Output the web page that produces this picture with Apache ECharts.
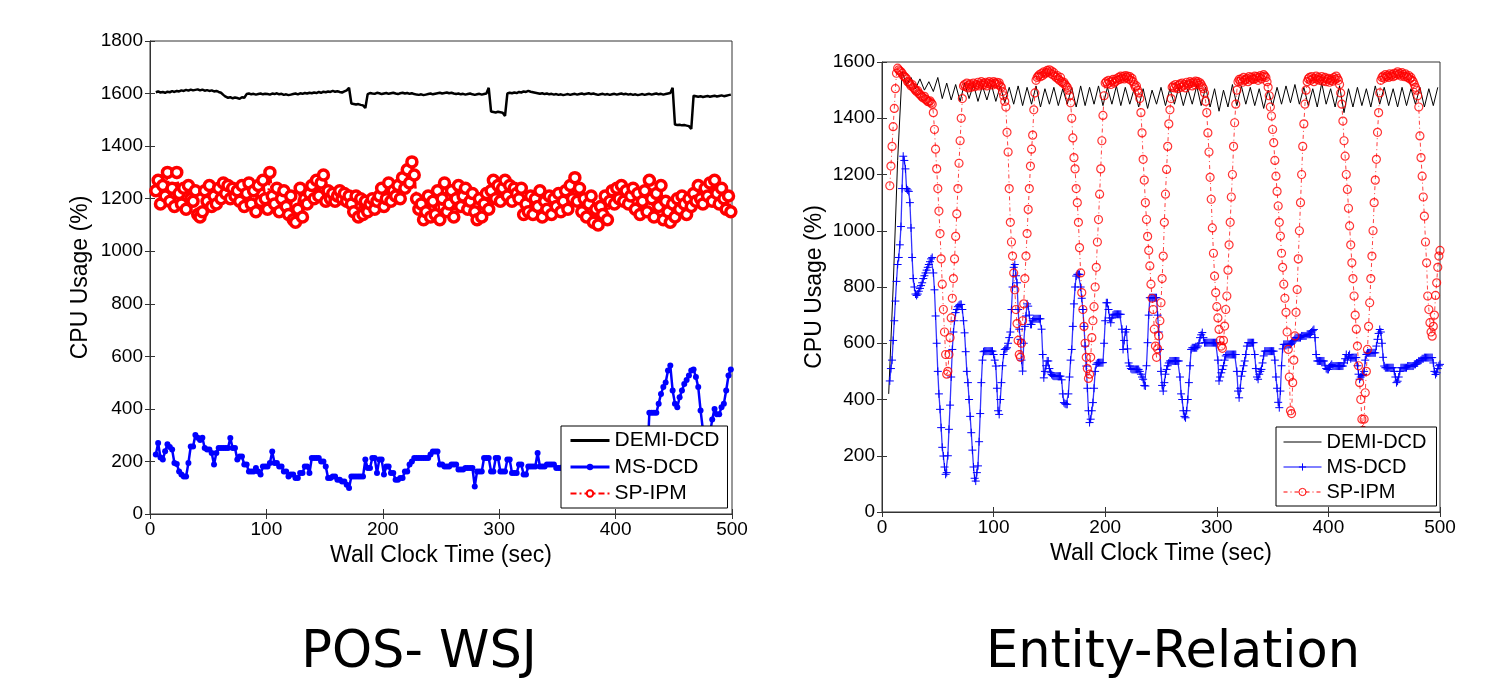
<!DOCTYPE html>
<html>
<head>
<meta charset="utf-8">
<title>CPU usage: POS-WSJ vs Entity-Relation</title>
<script src="https://cdn.jsdelivr.net/npm/echarts@6/dist/echarts.min.js"></script>
<style>
  html, body { margin: 0; padding: 0; background: #ffffff; }
  #chart { width: 1496px; height: 682px; }
</style>
</head>
<body>
<div id="chart"></div>
<script>
// POS-WSJ (left panel), one sample every 2 s starting at t = 5
const posStart = 5, posStep = 2;
const posDemiDcd = [
  1605,1608,1604,1606,1603,1607,1605,1609,1606,1610,1608,1612,1610,1614,1611,1615,1612,1614,1616,1612,
  1615,1611,1613,1610,1612,1608,1610,1606,1603,
  1595,1588,1584,1586,1582,1585,1583,1580,1586,1584,
  1598,1600,1597,1599,1596,1598,1600,1597,1599,1598,1596,1600,1598,1601,1597,1599,1595,1597,1594,1596,
  1598,1600,1597,1601,1599,1602,1600,1603,1601,1604,1602,1606,1603,1607,1605,1608,1606,1610,1607,1609,
  1606,1604,1608,1612,
  1622,
  1562,1560,1558,1560,1557,1555,1545,
  1598,1602,1600,1599,1603,1601,1598,1600,1602,1599,1601,1603,1600,1598,1601,1603,1600,1602,1599,1601,
  1598,1596,1595,1597,1594,1596,1598,1600,1597,1599,1601,1603,1600,1602,1604,1601,1603,1600,1598,1600,
  1597,1599,1596,1598,1600,1597,1595,1597,1599,1596,1598,1600,
  1622,
  1532,1530,1528,1531,1529,1527,1515,
  1600,1603,1601,1604,1602,1606,1604,1608,1606,1610,1607,1605,1603,1601,1599,1601,1598,1600,1597,1599,
  1596,1598,1595,1597,1594,1596,1598,1595,1597,1599,1596,1598,1600,1597,1599,1601,1598,1600,1597,1595,
  1597,1599,1596,1598,1595,1597,1599,1596,1598,1600,1597,1599,1596,1598,1595,1597,1594,1596,1598,1595,
  1597,1599,1596,1598,1600,1597,1599,1596,1598,1600,1602,
  1622,
  1482,1480,1481,1479,1480,1478,1476,1465,
  1592,1590,1588,1590,1587,1589,1591,1588,1590,1592,1589,1591,1593,1590,1592,1594,1596
];
const posMsDcd = [
  226,270,215,207,239,265,255,245,194,190, 162,150,143,143,194,257,257,301,290,282,
  290,251,245,245,232,188,232,251,251,251, 251,251,289,251,251,207,219,219,188,188,
  162,162,162,175,162,150,181,181,181,194, 238,194,194,181,181,162,162,143,150,150,
  137,137,156,156,181,181,156,213,213,213, 213,200,200,181,137,137,143,143,130,130,
  124,124,111,99,143,143,143,143,143,143, 207,175,175,213,213,156,207,207,150,181,
  181,156,156,130,130,137,137,162,162,188, 200,213,213,213,213,213,213,213,226,238,
  238,238,188,188,181,181,181,188,188,188, 169,169,169,175,175,175,175,105,162,162,
  162,213,213,213,162,162,213,213,162,162, 162,207,207,156,156,156,188,188,150,150,
  181,181,181,181,232,181,181,181,188,188, 188,188,175,175,175,181,181,181,170,170,
  170,175,175,175,181,181,181,175,175,175, 181,181,188,188,188,175,175,175,181,181,
  181,188,188,188,181,181,175,175,175,181, 181,181,385,385,385,385,420,457,483,500,
  546,565,470,420,406,444,470,495,510,527, 546,550,521,483,394,320,300,290,300,360,
  400,380,380,406,420,470,527,550
];
const posSpIpm = [
  1230,1270,1180,1250,1210,1300,1190,1240,1170,1300, 1220,1180,1240,1160,1250,1200,1190,1230,1140,1130,
  1150,1230,1190,1250,1170,1210,1180,1240,1200,1260, 1220,1250,1200,1240,1210,1230,1190,1250,1170,1220,
  1260,1180,1230,1150,1250,1190,1270,1200,1160,1300, 1210,1180,1240,1150,1200,1230,1170,1140,1210,1120,
  1110,1160,1240,1130,1200,1180,1220,1250,1200,1270, 1210,1260,1290,1190,1230,1200,1220,1190,1210,1230,
  1200,1220,1190,1210,1180,1150,1210,1130,1200,1140, 1190,1150,1180,1200,1160,1190,1210,1240,1170,1200,
  1260,1190,1230,1210,1250,1200,1280,1240,1310,1260, 1340,1290,1200,1160,1180,1120,1150,1210,1130,1190,
  1140,1230,1120,1200,1260,1150,1180,1230,1130,1200, 1250,1170,1210,1240,1160,1190,1220,1150,1120,1200,
  1130,1180,1220,1160,1230,1270,1200,1250,1190,1240, 1270,1210,1250,1190,1240,1220,1200,1240,1140,1180,
  1150,1210,1140,1200,1170,1230,1130,1190,1160,1210, 1140,1200,1170,1220,1150,1190,1230,1160,1250,1200,
  1280,1190,1240,1150,1200,1130,1180,1210,1110,1160, 1100,1170,1140,1210,1120,1190,1230,1180,1240,1200,
  1250,1190,1230,1180,1210,1240,1160,1220,1140,1190, 1230,1150,1270,1200,1130,1220,1170,1250,1120,1190,
  1150,1110,1180,1130,1200,1160,1210,1180,1140,1200, 1170,1220,1190,1250,1200,1180,1240,1210,1260,1190,
  1270,1220,1180,1240,1200,1160,1210,1150
];

// Entity-Relation (right panel)
const erDemiStart = 6, erDemiStep = 4;
const erDemiDcd = [
  420,800,1250,1565,1520,1545,1505,1540,1500,1530,1495,1545,1470,1525,1465,1520,1460,1525,1470,1520,
  1460,1515,1465,1520,1460,1515,1455,1510,1450,1515,1445,1510,1450,1515,1440,1505,1450,1510,1445,1505,
  1450,1510,1440,1515,1445,1510,1450,1515,1445,1510,1450,1515,1445,1510,1450,1505,1440,1505,1435,1500,
  1450,1510,1445,1505,1450,1510,1445,1505,1450,1515,1445,1510,1440,1505,1425,1500,1440,1520,1445,1515,
  1450,1510,1445,1505,1435,1500,1445,1510,1450,1515,1455,1520,1450,1510,1445,1505,1440,1525,1450,1505,
  1440,1515,1420,1505,1440,1510,1445,1505,1440,1515,1450,1510,1445,1505,1440,1510,1445,1505,1450,1510,
  1440,1505,1445,1510
];
const erStart = 7, erStep = 1;
const erMsDcd = [
  466,510,540,610,680,750,820,880,905,950, 1015,1150,1265,1250,1220,1150,1145,1140,1100,1010,
  905,830,800,775,770,775,785,795,805,815, 830,840,850,860,870,880,890,900,905,850,
  790,697,600,500,420,365,300,230,199,160, 134,140,200,294,380,480,578,640,680,709,
  720,730,735,738,738,720,680,637,570,500, 460,400,340,282,220,160,120,110,140,164,
  250,350,460,540,570,572,572,572,572,572, 572,572,572,560,540,519,440,360,347,400,
  460,520,560,578,580,584,600,620,640,720, 800,870,880,840,815,720,650,614,540,501,
  600,660,697,740,732,700,667,667,680,687, 687,687,687,687,687,687,650,560,477,500,
  520,537,537,510,495,489,485,483,483,483, 483,483,483,483,470,420,389,385,383,383,
  420,480,540,578,660,740,800,839,845,845, 845,800,760,720,660,590,519,440,360,318,
  330,360,389,440,500,525,530,531,531,531, 531,531,600,680,744,744,720,690,673,690,
  700,703,703,703,703,703,703,703,650,578, 610,640,649,580,530,519,510,507,507,507,
  507,507,507,507,500,490,480,472,450,448, 520,602,700,762,762,762,762,762,762,762,
  700,640,578,500,450,430,460,490,507,520, 530,537,537,537,537,537,537,537,537,537,
  480,420,400,360,340,335,360,400,460,520, 578,584,584,584,584,584,590,600,620,630,
  638,620,602,602,602,602,602,602,602,602, 602,602,602,602,540,466,480,495,507,520,
  540,555,560,560,560,560,560,560,560,560, 560,500,430,406,440,483,500,520,537,560,
  590,602,602,602,602,602,602,560,510,480, 472,490,500,507,530,555,572,572,572,572,
  572,572,572,572,572,540,480,440,390,371, 430,520,580,596,596,596,596,596,596,596,
  600,605,610,614,620,620,620,620,620,626, 626,626,626,626,632,632,632,632,640,645,
  649,620,560,537,537,537,537,537,537,537, 520,510,507,507,515,520,525,519,519,519,
  519,519,519,519,519,519,519,530,545,560, 540,555,560,545,549,549,549,549,549,520,
  490,472,480,485,489,500,540,560,566,566, 566,566,566,566,566,566,590,614,635,649,
  640,600,550,519,513,513,513,513,513,513, 513,513,500,480,460,465,480,500,513,513,
  513,513,513,513,519,519,519,519,519,519, 525,525,530,530,537,537,540,545,545,549,
  549,549,549,549,549,549,549,530,500,489, 495,510,520,525
];
const erSpIpm = [
  1160,1230,1300,1370,1435,1505,1560,1578,
  1572,1568,1565,1560,1552,1548,1545,1540,1530,1528,1522,1515,1520,1510,1505,1500,1495,1498,1488,1485,
  1480,1476,1472,1478,1468,1465,1460,1458,1462,1455,1450,
  1420,1360,1290,1220,1150,1070,990,900,810,720,640,560,490,
  500,560,620,690,760,830,900,980,1060,1150,1240,1320,1400,1470,1515,
  1520,1512,1525,1508,1518,1522,1510,1515,1525,1512,1520,1518,1528,1515,1522,1530,1518,1525,1520,1528,
  1515,1524,1530,1520,1526,1518,1530,1525,1522,1528,1520,1526,1515,1510,1495,
  1480,1460,1440,1350,1280,1150,1030,960,910,850,790,720,670,610,560,
  550,600,680,740,830,910,990,1076,1150,1230,1290,1340,1430,1490,1535,
  1545,1550,1555,1548,1560,1552,1565,1558,1562,1570,1565,1572,1560,1568,1555,1562,1550,1545,1552,1540,
  1535,1545,1530,1525,1528,1520,1515,1510,1500,1480,
  1455,1400,1330,1260,1220,1150,1100,1030,940,850,780,720,660,600,550,510,475,
  490,550,620,680,730,800,870,960,1040,1130,1220,1320,1410,1480,1525,
  1530,1522,1535,1528,1520,1532,1538,1525,1530,1540,1535,1545,1538,1550,1542,1548,1540,1552,1545,1550,
  1540,1548,1535,1542,1530,1520,1510,1515,1500,1490,1470,
  1420,1348,1254,1180,1100,1040,980,930,875,810,760,720,650,590,550,
  580,626,680,744,830,910,1030,1130,1218,1300,1380,1430,1470,1510,
  1515,1508,1520,1512,1505,1518,1522,1510,1525,1515,1520,1508,1528,1518,1522,1530,1525,1515,1528,1520,
  1532,1525,1530,1518,1526,1520,1512,1505,1490,1460,
  1420,1348,1280,1190,1112,1010,920,839,780,730,690,649,610,590,582,
  610,661,720,768,860,950,1030,1120,1200,1300,1384,1450,1500,1530,1538,
  1532,1540,1528,1545,1535,1538,1542,1530,1548,1536,1545,1540,1538,1550,1542,1548,1535,1545,1552,1540,
  1548,1555,1550,1545,1530,1510,
  1480,1440,1408,1360,1313,1250,1194,1140,1088,1030,981,920,870,810,760,710,640,578,480,360,
  350,460,540,626,710,791,900,1000,1100,1200,1300,1380,1450,1500,1530,1540,
  1545,1535,1548,1540,1530,1542,1550,1538,1545,1535,1540,1548,1532,1540,1545,1530,1538,1542,1528,1535,
  1540,1532,1545,1538,1550,1542,1535,1520,1490,
  1450,1390,1320,1265,1200,1147,1080,1017,950,886,830,768,700,650,590,520,460,400,330,290,
  330,424,500,578,660,744,830,910,1000,1100,1180,1254,1350,1420,1490,1535,
  1545,1550,1542,1555,1548,1552,1545,1558,1550,1555,1548,1560,1552,1558,1565,1555,1560,1550,1562,1555,
  1548,1558,1550,1545,1552,1540,1545,1535,1530,1520,1510,1500,1480,
  1440,1337,1260,1194,1120,1052,960,886,768,720,673,640,625,
  660,700,770,815,870,910,930
];

const xMax = 500, xInterval = 100;
const posYMax = 1800, erYMax = 1600, yInterval = 200;
const seriesNames = ['DEMI-DCD', 'MS-DCD', 'SP-IPM'];
const erPrefix = 'ER ';
const xTitle = 'Wall Clock Time (sec)';
const yTitle = 'CPU Usage (%)';
const panelTitles = ['POS- WSJ', 'Entity-Relation'];

function withTime(start, step, values) {
  return values.map((v, i) => [start + i * step, v]);
}

const FONT = '"Liberation Sans", Arial, sans-serif';
const frame = '#333333';
const blue = '#0000ff';
const red = '#ff0000';
const plusPath = 'path://M0,5L10,5M5,0L5,10';
const plain = v => String(v); // no thousands separator, as in the original plot

function mainX(grid, gap) {
  return {
    gridIndex: grid, type: 'value', min: 0, max: xMax, interval: xInterval, position: 'bottom',
    name: xTitle, nameLocation: 'middle', nameGap: gap,
    nameTextStyle: { fontFamily: FONT, fontSize: 23, color: '#000' },
    axisLine: { show: true, onZero: false, lineStyle: { color: frame, width: 1 } },
    axisTick: { inside: true, length: 5, lineStyle: { color: frame } },
    axisLabel: { fontFamily: FONT, fontSize: 19, color: '#000', margin: 6, formatter: plain },
    splitLine: { show: false }
  };
}
function topX(grid) {
  return {
    gridIndex: grid, type: 'value', min: 0, max: xMax, interval: xInterval, position: 'top',
    axisLine: { show: false }, axisLabel: { show: false }, splitLine: { show: false },
    axisTick: { inside: true, length: 5, lineStyle: { color: frame } }
  };
}
function mainY(grid, max, gap) {
  return {
    gridIndex: grid, type: 'value', min: 0, max: max, interval: yInterval, position: 'left',
    name: yTitle, nameLocation: 'middle', nameGap: gap,
    nameTextStyle: { fontFamily: FONT, fontSize: 23, color: '#000' },
    axisLine: { show: true, onZero: false, lineStyle: { color: frame, width: 1 } },
    axisTick: { inside: true, length: 5, lineStyle: { color: frame } },
    axisLabel: { fontFamily: FONT, fontSize: 19, color: '#000', margin: 7, formatter: plain },
    splitLine: { show: false }
  };
}
function rightY(grid, max) {
  return {
    gridIndex: grid, type: 'value', min: 0, max: max, interval: yInterval, position: 'right',
    axisLine: { show: false }, axisLabel: { show: false }, splitLine: { show: false },
    axisTick: { inside: true, length: 5, lineStyle: { color: frame } }
  };
}

const chart = echarts.init(document.getElementById('chart'), null, { renderer: 'canvas' });

const option = {
  backgroundColor: '#ffffff',
  animation: false,
  grid: [
    { left: 150, top: 41, width: 582, height: 473, show: true, borderColor: frame, borderWidth: 1, backgroundColor: 'transparent' },
    { left: 882, top: 62, width: 558, height: 450, show: true, borderColor: frame, borderWidth: 1, backgroundColor: 'transparent' }
  ],
  xAxis: [mainX(0, 23), topX(0), mainX(1, 22), topX(1)],
  yAxis: [mainY(0, posYMax, 58), rightY(0, posYMax), mainY(1, erYMax, 56), rightY(1, erYMax)],
  legend: [
    {
      orient: 'vertical', left: 561, top: 426,
      padding: [4, 8, 4, 8], itemGap: 5.5, itemWidth: 39, itemHeight: 8,
      backgroundColor: '#ffffff', borderColor: '#000', borderWidth: 1,
      selectedMode: false,
      textStyle: { fontFamily: FONT, fontSize: 21, color: '#000' },
      data: [
        { name: seriesNames[0], itemStyle: { opacity: 0 }, lineStyle: { color: '#000', width: 3 } },
        { name: seriesNames[1], itemStyle: { color: blue, borderWidth: 0 }, lineStyle: { color: blue, width: 3 } },
        { name: seriesNames[2], itemStyle: { color: '#fff', borderColor: red, borderWidth: 2 }, lineStyle: { color: red, width: 2, type: [6, 3, 2, 3] } }
      ]
    },
    {
      orient: 'vertical', left: 1276, top: 427,
      padding: [5, 10, 4, 7], itemGap: 5, itemWidth: 38, itemHeight: 9,
      backgroundColor: '#ffffff', borderColor: '#000', borderWidth: 1,
      selectedMode: false,
      formatter: name => name.replace(erPrefix, ''),
      textStyle: { fontFamily: FONT, fontSize: 20, color: '#000' },
      data: [
        { name: erPrefix + seriesNames[0], itemStyle: { opacity: 0 }, lineStyle: { color: '#000', width: 1 } },
        { name: erPrefix + seriesNames[1], itemStyle: { color: blue, borderColor: blue, borderWidth: 1 }, lineStyle: { color: blue, width: 1 } },
        { name: erPrefix + seriesNames[2], itemStyle: { color: 'rgba(255,255,255,0)', borderColor: red, borderWidth: 1 }, lineStyle: { color: red, width: 1, type: [4, 3, 1, 3] } }
      ]
    }
  ],
  graphic: [
    { type: 'text', x: 419, y: 654, style: { text: panelTitles[0], font: '51px "DejaVu Sans"', fill: '#000', align: 'center', verticalAlign: 'middle' } },
    { type: 'text', x: 1173, y: 654, style: { text: panelTitles[1], font: '51px "DejaVu Sans"', fill: '#000', align: 'center', verticalAlign: 'middle' } }
  ],
  series: [
    {
      name: seriesNames[0], type: 'line', xAxisIndex: 0, yAxisIndex: 0,
      data: withTime(posStart, posStep, posDemiDcd),
      symbol: 'none', lineStyle: { color: '#000', width: 2.5 }, itemStyle: { color: '#000' }
    },
    {
      name: seriesNames[1], type: 'line', xAxisIndex: 0, yAxisIndex: 0,
      data: withTime(posStart, posStep, posMsDcd),
      symbol: 'circle', symbolSize: 6,
      lineStyle: { color: blue, width: 2.5 }, itemStyle: { color: blue }
    },
    {
      name: seriesNames[2], type: 'line', xAxisIndex: 0, yAxisIndex: 0,
      data: withTime(posStart, posStep, posSpIpm),
      symbol: 'circle', symbolSize: 10,
      lineStyle: { color: red, width: 2.5, type: [8, 3, 2, 3] },
      itemStyle: { color: '#ffffff', borderColor: red, borderWidth: 3.5 }
    },
    {
      name: erPrefix + seriesNames[0], type: 'line', xAxisIndex: 2, yAxisIndex: 2,
      data: withTime(erDemiStart, erDemiStep, erDemiDcd),
      symbol: 'none', lineStyle: { color: '#000', width: 1 }, itemStyle: { color: '#000' }
    },
    {
      name: erPrefix + seriesNames[1], type: 'line', xAxisIndex: 2, yAxisIndex: 2,
      data: withTime(erStart, erStep, erMsDcd),
      symbol: plusPath, symbolSize: 8,
      lineStyle: { color: 'rgba(0,0,255,0.8)', width: 1.3 },
      itemStyle: { color: blue, borderColor: blue, borderWidth: 1 }
    },
    {
      name: erPrefix + seriesNames[2], type: 'line', xAxisIndex: 2, yAxisIndex: 2,
      data: withTime(erStart, erStep, erSpIpm),
      symbol: 'circle', symbolSize: 8,
      lineStyle: { color: 'rgba(255,0,0,0.75)', width: 1, type: [4, 3, 1, 3] },
      itemStyle: { color: 'rgba(255,255,255,0)', borderColor: 'rgba(255,0,0,0.8)', borderWidth: 1.2 }
    }
  ]
};

chart.setOption(option);
window.addEventListener('resize', function () { chart.resize(); });
</script>
</body>
</html>
